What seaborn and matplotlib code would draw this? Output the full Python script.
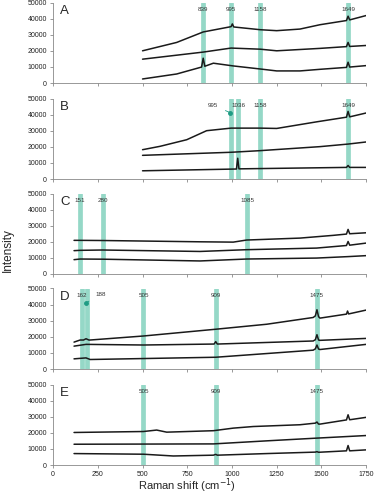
import pandas as pd
import seaborn as sns
import matplotlib.pyplot as plt

# Spectra, three traces per panel
a_top_x = [500, 691, 839, 995, 1002, 1010, 1158, 1250, 1380, 1492, 1640, 1649, 1658, 1750]
a_top_y = [20000, 25200, 31700, 35000, 36700, 34800, 33100, 32500, 33500, 36200, 38800, 41500, 39200, 41900]
a_mid_x = [500, 839, 995, 1158, 1250, 1492, 1640, 1649, 1658, 1750]
a_mid_y = [14800, 19200, 21700, 21000, 20000, 21500, 22600, 25200, 22700, 23300]
a_bot_x = [500, 691, 830, 839, 848, 896, 1007, 1158, 1250, 1380, 1492, 1640, 1649, 1658, 1750]
a_bot_y = [2500, 5600, 9900, 15400, 10400, 12300, 10600, 8700, 7500, 7500, 8500, 9700, 12900, 9900, 10800]

b_top_x = [500, 598, 747, 858, 995, 1156, 1250, 1473, 1640, 1649, 1658, 1750]
b_top_y = [18200, 20300, 24400, 30000, 31600, 31600, 31400, 35500, 38400, 42000, 38600, 41000]
b_mid_x = [500, 995, 1156, 1492, 1649, 1750]
b_mid_y = [14700, 16600, 17600, 20100, 21700, 23000]
b_bot_x = [500, 1025, 1032, 1039, 1640, 1649, 1658, 1750]
b_bot_y = [5100, 6200, 12900, 6300, 7200, 8400, 7200, 7200]

c_top_x = [117, 151, 280, 821, 1007, 1082, 1380, 1566, 1640, 1649, 1658, 1750]
c_top_y = [20900, 20900, 20800, 20000, 19800, 21100, 22300, 24000, 24800, 27700, 25000, 25600]
c_mid_x = [117, 151, 276, 821, 1082, 1473, 1640, 1649, 1658, 1750]
c_mid_y = [14500, 14700, 14900, 14000, 15100, 16100, 17700, 20200, 17900, 19200]
c_bot_x = [117, 151, 276, 821, 1082, 1473, 1649, 1750]
c_bot_y = [8900, 9300, 9200, 8100, 9300, 9900, 10800, 11400]

d_top_x = [117, 151, 170, 184, 200, 207, 505, 909, 1194, 1454, 1466, 1475, 1484, 1492, 1640, 1646, 1652, 1750]
d_top_y = [16700, 18000, 18000, 18800, 18000, 18000, 20500, 24700, 27800, 32000, 33000, 36800, 32500, 31600, 34100, 36000, 34200, 36600]
d_mid_x = [117, 184, 505, 900, 909, 918, 1454, 1466, 1475, 1484, 1492, 1750]
d_mid_y = [14200, 15300, 14900, 15500, 17000, 15500, 17400, 18200, 21300, 18000, 17800, 19000]
d_bot_x = [117, 184, 207, 909, 1194, 1454, 1466, 1475, 1484, 1492, 1750]
d_bot_y = [6300, 6900, 5900, 7300, 9600, 11700, 12500, 14900, 12400, 12100, 15300]

e_top_x = [117, 505, 579, 635, 896, 1007, 1119, 1380, 1466, 1475, 1484, 1492, 1640, 1649, 1658, 1750]
e_top_y = [20200, 20800, 21700, 20400, 21300, 22900, 23900, 25000, 26000, 26700, 25400, 25400, 28000, 31200, 28100, 29600]
e_mid_x = [117, 896, 1194, 1475, 1750]
e_mid_y = [12900, 13100, 15000, 16700, 18300]
e_bot_x = [117, 505, 672, 896, 909, 918, 1194, 1466, 1475, 1484, 1640, 1649, 1658, 1750]
e_bot_y = [7100, 6700, 5600, 6100, 6600, 6100, 7100, 8000, 8300, 7900, 8800, 12100, 8800, 9400]

# Marked bands per panel
bands_a = [839, 995, 1158, 1649]
bands_b = [995, 1036, 1158, 1649]
bands_c = [151, 280, 1085]
bands_d = [162, 188, 505, 909, 1475]
bands_e = [505, 909, 1475]

panel_letters = ['A', 'B', 'C', 'D', 'E']
x_ticks = [0, 250, 500, 750, 1000, 1250, 1500, 1750]
y_ticks = [0, 10000, 20000, 30000, 40000, 50000]

panels = [
    ([(a_top_x, a_top_y), (a_mid_x, a_mid_y), (a_bot_x, a_bot_y)], bands_a),
    ([(b_top_x, b_top_y), (b_mid_x, b_mid_y), (b_bot_x, b_bot_y)], bands_b),
    ([(c_top_x, c_top_y), (c_mid_x, c_mid_y), (c_bot_x, c_bot_y)], bands_c),
    ([(d_top_x, d_top_y), (d_mid_x, d_mid_y), (d_bot_x, d_bot_y)], bands_d),
    ([(e_top_x, e_top_y), (e_mid_x, e_mid_y), (e_bot_x, e_bot_y)], bands_e),
]

sns.set_style("ticks")
plt.rcParams['font.family'] = ['Liberation Sans', 'DejaVu Sans']

band_color = '#95d8c7'
arrow_color = '#1f9c84'
fig = plt.figure(figsize=(3.74, 5.0), dpi=100)

bottoms = [0.834, 0.642, 0.452, 0.262, 0.070]
left, width, height = 0.142, 0.837, 0.161

for i, (traces, bands) in enumerate(panels):
    ax = fig.add_axes([left, bottoms[i], width, height])
    frames = []
    for k, (xs, ys) in enumerate(traces):
        frames.append(pd.DataFrame({'shift': xs, 'intensity': ys, 'trace': k}))
    df = pd.concat(frames)

    for b in bands:
        ax.axvline(b, color=band_color, lw=3.4, zorder=1)

    sns.lineplot(data=df, x='shift', y='intensity', hue='trace',
                 palette=['#1a1a1a'] * 3, linewidth=1.1, legend=False,
                 ax=ax, zorder=3, estimator=None, sort=False)

    # band labels
    for b in bands:
        if (i == 1 and b == 995) or (i == 3 and b == 188):
            continue
        ax.text(b, 45500, str(b), ha='center', va='center', fontsize=4.5,
                color='#333333', zorder=4)

    if i == 1:
        ax.annotate('995', xy=(990, 41200), xytext=(895, 45800), fontsize=4.5,
                    ha='center', va='center', color='#333333',
                    arrowprops=dict(arrowstyle='-', color=arrow_color, lw=0.6,
                                    shrinkA=3, shrinkB=0))
        ax.plot([990], [41200], 'o', color=arrow_color, ms=2.5, zorder=5)
    if i == 3:
        ax.annotate('188', xy=(186, 41200), xytext=(268, 46500), fontsize=4.5,
                    ha='center', va='center', color='#333333',
                    arrowprops=dict(arrowstyle='-', color=arrow_color, lw=0.6,
                                    shrinkA=3, shrinkB=0))
        ax.plot([186], [41200], 'o', color=arrow_color, ms=2.5, zorder=5)

    ax.text(38, 45000, panel_letters[i], fontsize=9.5, ha='left', va='center')

    ax.set_xlim(0, 1750)
    ax.set_ylim(0, 50000)
    ax.set_xticks(x_ticks)
    ax.set_yticks(y_ticks)
    ax.tick_params(axis='both', labelsize=5, length=2.5, width=0.6, color='#888888',
                   pad=2, labelcolor='#222222')
    if i < 4:
        ax.set_xticklabels([])
    ax.set_xlabel('')
    ax.set_ylabel('')
    sns.despine(ax=ax)
    for s in ['left', 'bottom']:
        ax.spines[s].set_color('#888888')
        ax.spines[s].set_linewidth(0.6)
    ax.patch.set_alpha(0)

fig.text(0.5, 0.028, 'Raman shift (cm$^{-1}$)', ha='center', va='center', fontsize=8)
fig.text(0.022, 0.5, 'Intensity', rotation=90, ha='center', va='center', fontsize=8.5)

plt.savefig('out.png', dpi=100)
